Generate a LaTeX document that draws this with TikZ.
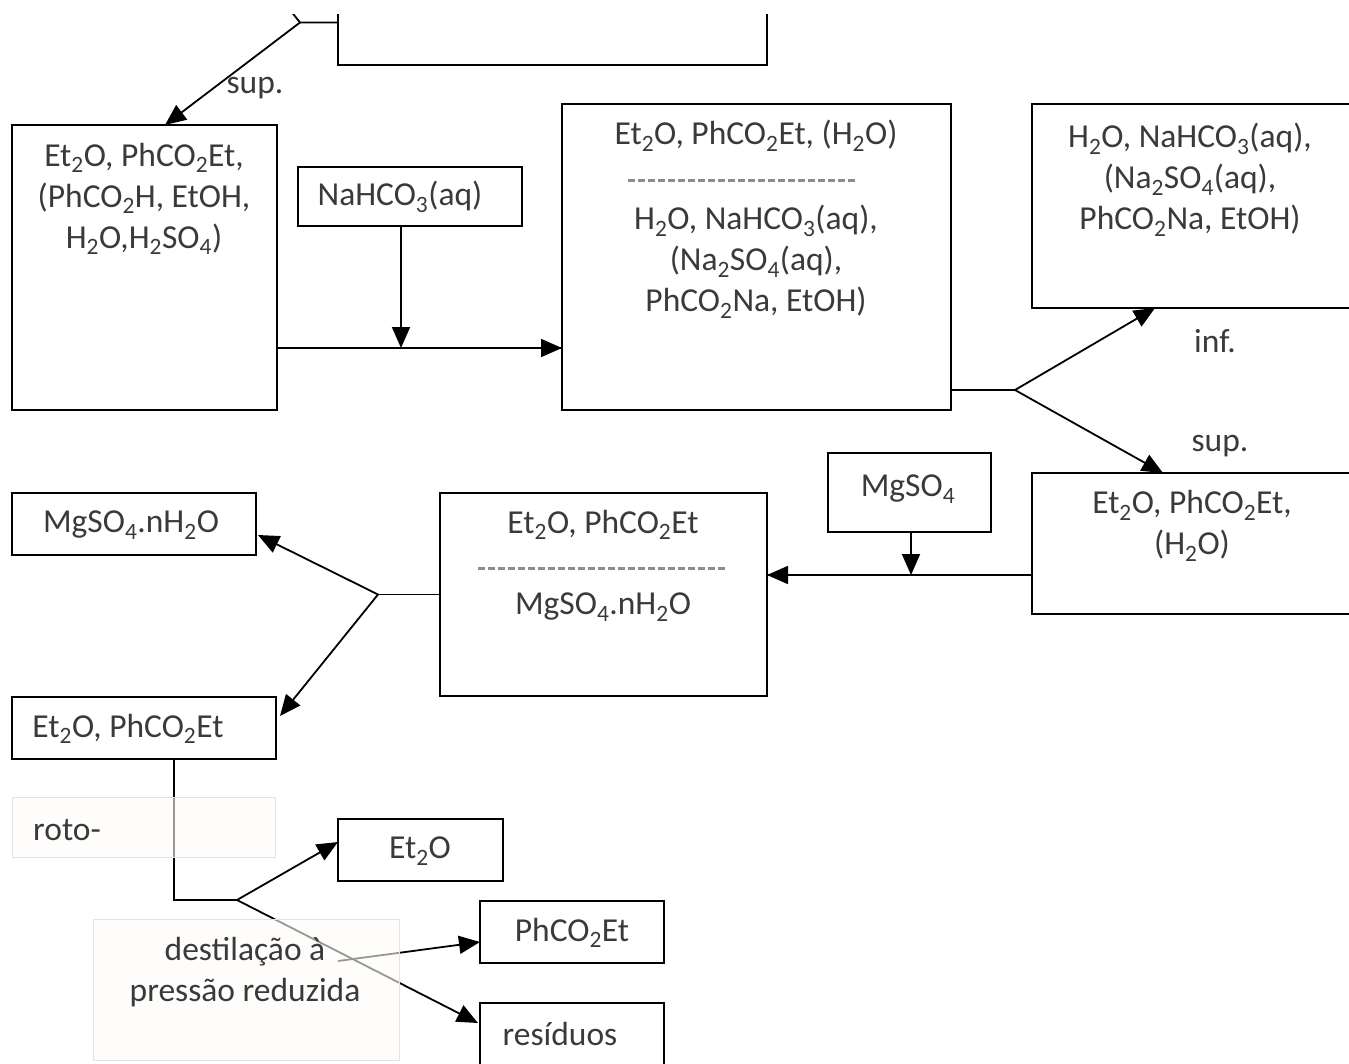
\documentclass[tikz,border=0pt]{standalone}
\usepackage{fontspec}
\setmainfont{Carlito}
\usetikzlibrary{arrows.meta,calc}
\newcommand\chs[1]{\textsubscript{#1}}
\definecolor{txt}{HTML}{3A3A3A}
\definecolor{lblfill}{HTML}{FDFCFA}
\definecolor{lblline}{HTML}{E6E2DE}
\begin{document}
\begin{tikzpicture}[x=1pt,y=-1pt,
  box/.style={draw=black,line width=2pt,inner sep=0pt,outer sep=0pt},
  lbl/.style={draw=lblline,line width=1pt,fill=lblfill,fill opacity=0.6,inner sep=0pt,outer sep=0pt},
  tx/.style={text=txt,font=\fontsize{33.5}{41}\selectfont,align=center,inner sep=0pt},
  ln/.style={line width=1.8pt,draw=black},
  arr/.style={ln,-{Triangle[length=21pt,width=18pt]}},
  dashrule/.style={draw=black!45,line width=3pt,dash pattern=on 7pt off 3pt}]
\useasboundingbox (0,0) rectangle (1349,1063);
\clip (0,0) rectangle (1349,1063);
% top box, cut at the top edge of the drawing
\begin{scope}
\clip (0,14) rectangle (1349,1063);
\node[box,minimum width=429,minimum height=85] (T) at (552.5,22.5) {};
\coordinate (j0) at (300,22.5);
\coordinate (j0a) at (290,10);
\draw[ln] (j0a) -- (j0) -- (T.west);
\end{scope}
% boxes
\node[box,minimum width=265,minimum height=285] (A) at (144.5,267.5) {};
\node[box,minimum width=224,minimum height=59] (N) at (410,196.5) {};
\node[box,minimum width=389,minimum height=306] (B) at (756.5,257) {};
\node[box,minimum width=348,minimum height=204] (C) at (1206,206) {};
\node[box,minimum width=348,minimum height=141] (D) at (1206,543.5) {};
\node[box,minimum width=163,minimum height=79] (M) at (909.5,492.5) {};
\node[box,minimum width=327,minimum height=203] (E) at (603.5,594.5) {};
\node[box,minimum width=244,minimum height=62] (F) at (134,524) {};
\node[box,minimum width=264,minimum height=62] (G) at (144,728) {};
\node[box,minimum width=165,minimum height=62] (H) at (420.5,850) {};
\node[box,minimum width=184,minimum height=62] (I) at (572,932) {};
\node[box,minimum width=184,minimum height=96] (J) at (572,1051) {};
% texts
\node[tx] (tA) at (144,199) {Et\chs{2}O, PhCO\chs{2}Et,\\(PhCO\chs{2}H, EtOH,\\H\chs{2}O,H\chs{2}SO\chs{4})};
\node[tx] (tN) at (400,197) {NaHCO\chs{3}(aq)};
\node[tx] (tB1) at (756,136) {Et\chs{2}O, PhCO\chs{2}Et, (H\chs{2}O)};
\node[tx] (tB2) at (756,262) {H\chs{2}O, NaHCO\chs{3}(aq),\\(Na\chs{2}SO\chs{4}(aq),\\PhCO\chs{2}Na, EtOH)};
\node[tx] (tC) at (1190,180) {H\chs{2}O, NaHCO\chs{3}(aq),\\(Na\chs{2}SO\chs{4}(aq),\\PhCO\chs{2}Na, EtOH)};
\node[tx] (tD) at (1192,526) {Et\chs{2}O, PhCO\chs{2}Et,\\(H\chs{2}O)};
\node[tx] (tM) at (908,489) {MgSO\chs{4}};
\node[tx] (tE1) at (603,525) {Et\chs{2}O, PhCO\chs{2}Et};
\node[tx] (tE2) at (603,607) {MgSO\chs{4}.nH\chs{2}O};
\node[tx] (tF) at (131,525) {MgSO\chs{4}.nH\chs{2}O};
\node[tx] (tG) at (128,729) {Et\chs{2}O, PhCO\chs{2}Et};
\node[tx] (tH) at (420,851) {Et\chs{2}O};
\node[tx] (tI) at (572,933) {PhCO\chs{2}Et};
\node[tx] (tJ) at (560,1034) {resíduos};
\node[tx] (sup1) at (255,88) {sup.};
\node[tx] (inf1) at (1215,341) {inf.};
\node[tx] (sup2) at (1220,446) {sup.};
% dashed separators
\draw[dashrule] (628,180) coordinate (dB1) -- (855,180) coordinate (dB2);
\draw[dashrule] (478,568) coordinate (dE1) -- (728,568) coordinate (dE2);
% connectors
\draw[arr] (j0) -- ($(A.north west)+(153,0)$);
\draw[ln] ($(A.east)+(0,80.5)$) coordinate (ab) -- (ab -| B.west);
\draw[arr] ($(ab)+(270,0)$) -- (ab -| B.west);
\coordinate (xN) at (401,0);
\draw[arr] (N.south -| xN) -- (ab -| xN);
\draw[ln] ($(B.east)+(0,133)$) -- ++(64,0) coordinate (j1);
\coordinate (xC) at (1155,0);
\coordinate (xD) at (1163,0);
\draw[arr] (j1) -- (C.south -| xC);
\draw[arr] (j1) -- (D.north -| xD);
\draw[ln] ($(D.west)+(0,31.5)$) coordinate (de) -- (de -| E.east);
\draw[arr] ($(de)+(-100,0)$) -- (de -| E.east);
\coordinate (xM) at (911,0);
\draw[arr] (M.south -| xM) -- (de -| xM);
\draw[ln] (E.west) -- ++(-62,0) coordinate (j2);
\draw[arr] (j2) -- ($(F.east)+(2,11)$);
\draw[arr] (j2) -- ($(G.east)+(4,-12)$);
\coordinate (j3) at (237,900);
\draw[ln] ($(G.south)+(30,0)$) |- (j3);
\draw[arr] (j3) -- ($(H.west)+(0,-8)$);
\draw[arr] (j3) -- ($(J.west)+(-2,-28)$);
\coordinate (d1) at (338,961);
\draw[arr] (d1) -- ($(I.west)+(0,10)$);
% translucent label boxes
\node[lbl,minimum width=263,minimum height=60] (R) at (143.5,827) {};
\node[tx,anchor=west] (tR) at (33,830) {roto-};
\node[lbl,minimum width=306,minimum height=141] (L) at (246,989.5) {};
\node[tx] (tL) at (245,972) {destilação à\\pressão reduzida};
\end{tikzpicture}
\end{document}
